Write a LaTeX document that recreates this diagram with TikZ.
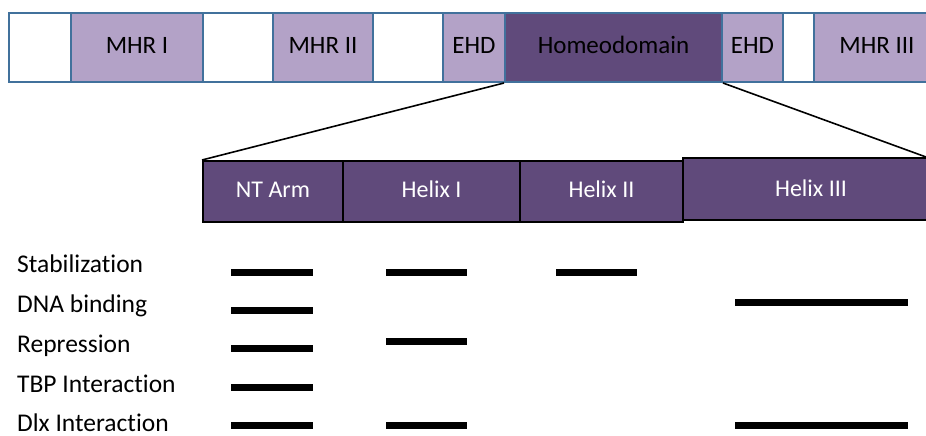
\documentclass[tikz,border=0pt]{standalone}
\usepackage{fontspec}
\setmainfont{Carlito}[Ligatures=NoCommon]
\definecolor{lightpurple}{HTML}{B3A2C7}
\definecolor{darkpurple}{HTML}{604A7B}
\definecolor{segborder}{HTML}{41719C}
\begin{document}
\begin{tikzpicture}[x=1pt,y=-1pt,
  seg/.style={draw=segborder,line width=2pt,anchor=north west,minimum height=69pt,inner sep=0pt,text height=17pt,text depth=5pt,font=\fontsize{25}{28}\selectfont},
  light/.style={seg,fill=lightpurple},
  blank/.style={seg,fill=white},
  dark/.style={seg,fill=darkpurple},
  helix/.style={draw=black,line width=2pt,fill=darkpurple,anchor=north west,minimum height=61pt,inner sep=0pt,text height=16pt,text depth=5pt,text=white,font=\fontsize{24}{27}\selectfont},
  lab/.style={anchor=west,inner sep=0pt,text height=17pt,text depth=5pt,font=\fontsize{25.5}{28}\selectfont},
  bar/.style={line width=7pt},
  zoomline/.style={line width=1.6pt}]
\useasboundingbox (0,0) rectangle (926,436);
% top bar
\node[blank,minimum width=62pt] (b1) at (8,12) {};
\node[light,minimum width=132pt] (mhr1) at (70,12) {MHR I};
\node[blank,minimum width=70pt] (b2) at (202,12) {};
\node[light,minimum width=100pt] (mhr2) at (272,12) {MHR II};
\node[blank,minimum width=70pt] (b3) at (372,12) {};
\node[light,minimum width=62pt] (ehd1) at (442,12) {EHD};
\node[dark,minimum width=217pt] (hd) at (504,12) {Homeodomain};
\node[light,minimum width=61pt] (ehd2) at (721,12) {EHD};
\node[blank,minimum width=31pt] (b4) at (782,12) {};
\node[light,minimum width=126pt] (mhr3) at (813,12) {MHR III};
% helix boxes
\node[helix,minimum width=140pt] (nt) at (202,160) {NT Arm};
\node[helix,minimum width=177pt] (h1) at (342,160) {Helix I};
\node[helix,minimum width=163pt] (h2) at (519,160) {Helix II};
\node[helix,minimum width=256pt,minimum height=62pt,text depth=2pt] (h3) at (682,157) {Helix III};
% zoom lines
\draw[zoomline] (hd.south west) -- (nt.north west);
\draw[zoomline] (hd.south east) -- (926,157);
% labels
\node[lab] (l1) at (17,266) {Stabilization};
\node[lab] (l2) at (17,306) {DNA binding};
\node[lab] (l3) at (17,346) {Repression};
\node[lab] (l4) at (17,386) {TBP Interaction};
\node[lab,text depth=1pt] (l5) at (17,423) {Dlx Interaction};
% bars
\draw[bar] (231,272) -- (313,272);
\draw[bar] (386,272) -- (467,272);
\draw[bar] (556,272) -- (637,272);
\draw[bar] (231,310) -- (313,310);
\draw[bar] (735,302) -- (908,302);
\draw[bar] (231,348) -- (313,348);
\draw[bar] (386,341) -- (467,341);
\draw[bar] (231,387) -- (313,387);
\draw[bar] (231,425) -- (313,425);
\draw[bar] (386,425) -- (467,425);
\draw[bar] (735,425) -- (908,425);
\end{tikzpicture}
\end{document}
